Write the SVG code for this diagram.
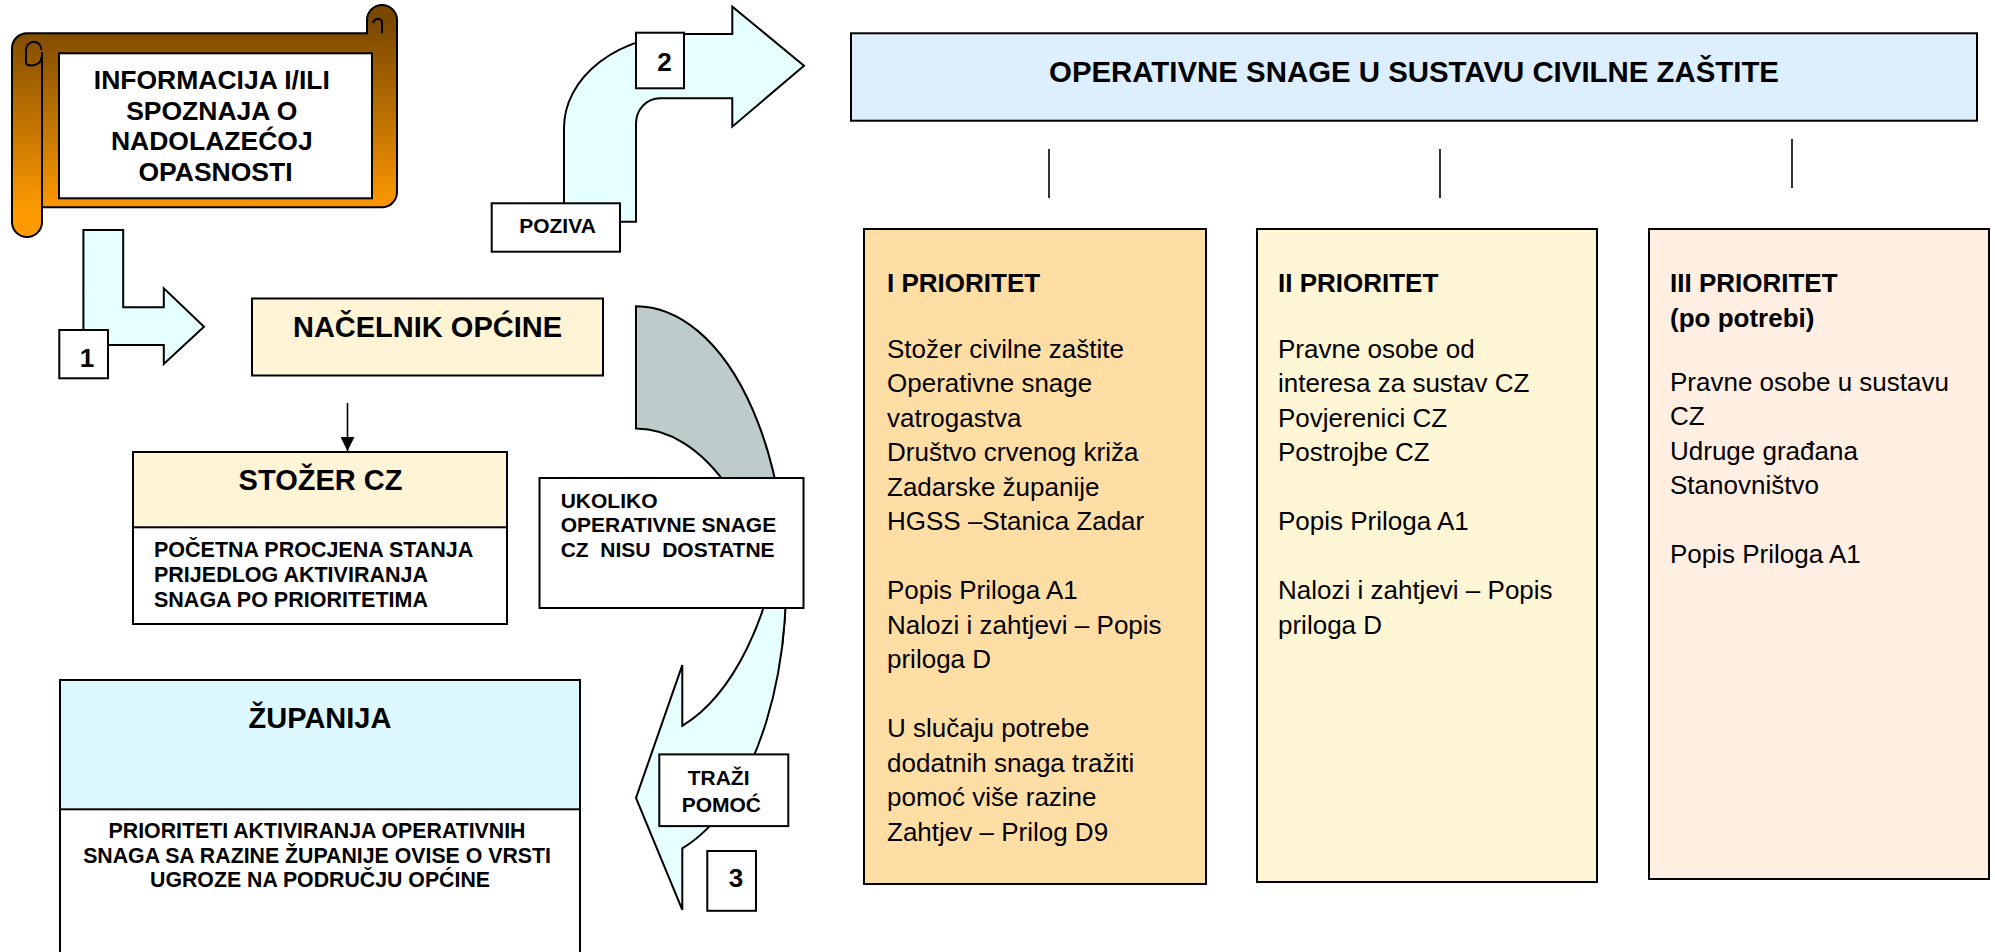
<svg xmlns="http://www.w3.org/2000/svg" width="1995" height="952" viewBox="0 0 1995 952">
  <defs>
    <linearGradient id="scrollFill" x1="0" y1="22" x2="0" y2="212" gradientUnits="userSpaceOnUse">
      <stop offset="0" stop-color="#7A4800"/>
      <stop offset="1" stop-color="#FF9A00"/>
    </linearGradient>
    <marker id="arrowHead" viewBox="0 0 14 14" markerWidth="14" markerHeight="14" refX="14" refY="7" orient="auto" markerUnits="userSpaceOnUse">
      <path d="M0,0 L14,7 L0,14 Z" fill="#000"/>
    </marker>
    <style>
      .box { stroke: #000; stroke-width: 2; }
      .shape { stroke: #000; stroke-width: 2; stroke-linejoin: miter; }
      .b { font-family: "Liberation Sans", Arial, sans-serif; font-weight: bold; fill: #000; }
      .r { font-family: "Liberation Sans", Arial, sans-serif; font-weight: normal; fill: #000; }
      .mid { text-anchor: middle; }
      .pre { white-space: pre; }
      .cream { fill: #FFF5D6; }
      .sky { fill: #DDF7FF; }
      .ice { fill: #E6FFFF; }
      .shade { fill: #BDCBCB; }
      .link { stroke: #000; stroke-width: 1.6; fill: none; }
    </style>
  </defs>

  <rect width="1995" height="952" fill="#fff"/>

  <!-- scroll: incoming information -->
  <g id="node-info">
    <path class="shape" fill="url(#scrollFill)" d="M 12 48 A 15 15 0 0 1 27 33.3 L 367 33.3 L 367 20 A 15 15 0 0 1 397 20 L 397 192 A 15 15 0 0 1 382 207.3 L 42 207.3 L 42 222 A 15 15 0 0 1 12 222 Z"/>
    <path class="shape" fill="none" d="M 42 52 L 42 207.3"/>
    <path class="shape" fill="none" d="M 26 64 L 26 50 A 7.5 8 0 0 1 41.5 50 M 26 64 A 10 8 0 0 0 41.5 57"/>
    <path class="shape" fill="none" d="M 382 33.3 L 382 21 A 5 5 0 0 0 373 23"/>
    <rect x="59" y="53.3" width="313" height="145" fill="#fff" class="box"/>
    <text class="b mid" font-size="26.5">
      <tspan x="215.5" y="89">INFORMACIJA I/ILI</tspan>
      <tspan x="215.5" y="119.5">SPOZNAJA O</tspan>
      <tspan x="215.5" y="150">NADOLAZEĆOJ</tspan>
      <tspan x="215.5" y="181">OPASNOSTI</tspan>
    </text>
  </g>

  <!-- step 1 bent arrow -->
  <g id="arrow-1">
    <path class="shape ice" d="M 83.4 230 L 123.2 230 L 123.2 307.3 L 163.8 307.3 L 163.8 288.3 L 204 326.7 L 163.8 364 L 163.8 345 L 83.4 345 Z"/>
    <rect x="59.3" y="330" width="48.7" height="48.3" fill="#fff" class="box"/>
    <text class="b mid" font-size="26" x="87" y="367">1</text>
  </g>

  <!-- mayor -->
  <g id="node-nacelnik">
    <rect x="252" y="298.5" width="351" height="77" class="box cream"/>
    <text class="b mid" font-size="29" x="427.5" y="337.3">NAČELNIK OPĆINE</text>
  </g>

  <!-- HQ -->
  <g id="node-stozer">
    <rect x="133" y="452" width="374" height="172" fill="#fff" class="box"/>
    <rect x="133" y="452" width="374" height="75.3" class="box cream"/>
    <text class="b mid" font-size="29" x="320.5" y="490">STOŽER CZ</text>
    <text class="b" font-size="21.5">
      <tspan x="154" y="557.3">POČETNA PROCJENA STANJA</tspan>
      <tspan x="154" y="581.7">PRIJEDLOG AKTIVIRANJA</tspan>
      <tspan x="154" y="606.7">SNAGA PO PRIORITETIMA</tspan>
    </text>
  </g>

  <!-- step 2 bent-up arrow -->
  <g id="arrow-2">
    <path class="shape ice" d="M 564 221.7 L 564 128 A 124 94 0 0 1 688 34 L 732.3 34 L 732.3 6.7 L 804 65.7 L 732.3 126.7 L 732.3 98.3 L 660 98.3 A 24 25 0 0 0 636 123.3 L 636 221.7 Z"/>
    <rect x="636" y="32.7" width="48" height="55.6" fill="#fff" class="box"/>
    <text class="b mid" font-size="26" x="664.5" y="70.7">2</text>
    <rect x="491.7" y="203.3" width="128.3" height="48.4" fill="#fff" class="box"/>
    <text class="b mid" font-size="21" x="557.5" y="233.3">POZIVA</text>
  </g>

  <!-- step 3 curved arrow: shaded back band, then front band with head -->
  <g id="arrow-3">
    <path class="shape shade" d="M 636 306.2 A 150 278 0 0 1 782.3 645.3 A 150 278 0 0 0 636 428.6 Z"/>
    <path class="shape ice" d="M 782.3 522.7 A 150 278 0 0 1 682.3 848.4 L 682.3 909.9 L 636 797.9 L 682.3 665.1 L 682.3 725.8 A 150 278 0 0 0 782.3 522.7 Z"/>
  </g>

  <g id="node-ukoliko">
    <rect x="539.5" y="478" width="264" height="130" fill="#fff" class="box"/>
    <text class="b pre" font-size="21" xml:space="preserve"><tspan x="560.7" y="507.5">UKOLIKO</tspan><tspan x="560.7" y="532.4">OPERATIVNE SNAGE</tspan><tspan x="560.7" y="557.3">CZ  NISU  DOSTATNE</tspan></text>
  </g>

  <g id="node-trazi">
    <rect x="659.3" y="754.4" width="129" height="71.7" fill="#fff" class="box"/>
    <text class="b" font-size="21">
      <tspan x="687.7" y="784.6">TRAŽI</tspan>
      <tspan x="681.7" y="812.4">POMOĆ</tspan>
    </text>
  </g>

  <g id="node-3">
    <rect x="707.3" y="851" width="48.7" height="59.8" fill="#fff" class="box"/>
    <text class="b mid" font-size="26" x="736" y="887">3</text>
  </g>

  <!-- county -->
  <g id="node-zupanija">
    <rect x="60" y="680" width="520" height="290" fill="#fff" class="box"/>
    <rect x="60" y="680" width="520" height="129.3" class="box sky"/>
    <text class="b mid" font-size="29" x="320" y="728.3">ŽUPANIJA</text>
    <text class="b mid" font-size="21.3">
      <tspan x="320" y="837.7">PRIORITETI AKTIVIRANJA OPERATIVNIH</tspan>
      <tspan x="320" y="863.3">SNAGA SA RAZINE ŽUPANIJE OVISE O VRSTI</tspan>
      <tspan x="320" y="887.3">UGROZE NA PODRUČJU OPĆINE</tspan>
    </text>
  </g>

  <!-- operational forces header -->
  <g id="node-snage">
    <rect x="851" y="33.3" width="1126" height="87.4" fill="#DDEEFF" class="box"/>
    <text class="b mid" font-size="29.4" x="1414" y="81.7">OPERATIVNE SNAGE U SUSTAVU CIVILNE ZAŠTITE</text>
  </g>

  <!-- priority columns -->
  <g id="node-prioritet-1">
    <rect x="864" y="229" width="342" height="655" fill="#FFDEA6" class="box"/>
    <text class="b" font-size="26" x="887" y="292">I PRIORITET</text>
    <text class="r" font-size="26">
      <tspan x="887" y="357.5">Stožer civilne zaštite</tspan>
      <tspan x="887" y="392">Operativne snage</tspan>
      <tspan x="887" y="426.5">vatrogastva</tspan>
      <tspan x="887" y="461">Društvo crvenog križa</tspan>
      <tspan x="887" y="495.5">Zadarske županije</tspan>
      <tspan x="887" y="530">HGSS –Stanica Zadar</tspan>
      <tspan x="887" y="599">Popis Priloga A1</tspan>
      <tspan x="887" y="633.5">Nalozi i zahtjevi – Popis</tspan>
      <tspan x="887" y="668">priloga D</tspan>
      <tspan x="887" y="737">U slučaju potrebe</tspan>
      <tspan x="887" y="771.5">dodatnih snaga tražiti</tspan>
      <tspan x="887" y="806">pomoć više razine</tspan>
      <tspan x="887" y="840.5">Zahtjev – Prilog D9</tspan>
    </text>
  </g>

  <g id="node-prioritet-2">
    <rect x="1257" y="229" width="340" height="653" fill="#FFF6D5" class="box"/>
    <text class="b" font-size="26" x="1278" y="292">II PRIORITET</text>
    <text class="r" font-size="26">
      <tspan x="1278" y="357.5">Pravne osobe od</tspan>
      <tspan x="1278" y="392">interesa za sustav CZ</tspan>
      <tspan x="1278" y="426.5">Povjerenici CZ</tspan>
      <tspan x="1278" y="461">Postrojbe CZ</tspan>
      <tspan x="1278" y="530">Popis Priloga A1</tspan>
      <tspan x="1278" y="599">Nalozi i zahtjevi – Popis</tspan>
      <tspan x="1278" y="633.5">priloga D</tspan>
    </text>
  </g>

  <g id="node-prioritet-3">
    <rect x="1649" y="229" width="340" height="650" fill="#FFEFE2" class="box"/>
    <text class="b" font-size="26">
      <tspan x="1670" y="292">III PRIORITET</tspan>
      <tspan x="1670" y="326.5">(po potrebi)</tspan>
    </text>
    <text class="r" font-size="26">
      <tspan x="1670" y="390.5">Pravne osobe u sustavu</tspan>
      <tspan x="1670" y="425">CZ</tspan>
      <tspan x="1670" y="459.5">Udruge građana</tspan>
      <tspan x="1670" y="494">Stanovništvo</tspan>
      <tspan x="1670" y="563">Popis Priloga A1</tspan>
    </text>
  </g>

  <!-- connectors -->
  <g id="connectors">
    <line class="link" x1="347.5" y1="403" x2="347.5" y2="451" marker-end="url(#arrowHead)"/>
    <line class="link" x1="1049" y1="149" x2="1049" y2="198"/>
    <line class="link" x1="1440" y1="149" x2="1440" y2="198"/>
    <line class="link" x1="1792" y1="139" x2="1792" y2="188"/>
  </g>
</svg>
